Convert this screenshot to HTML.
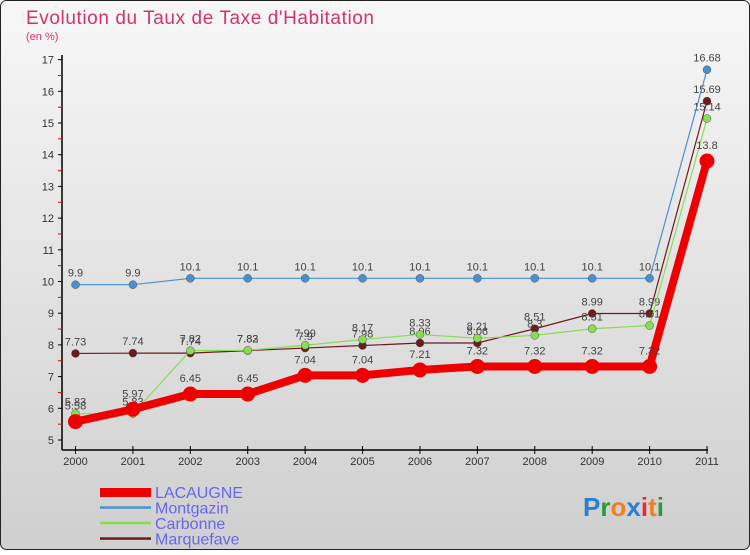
<!DOCTYPE html>
<html><head><meta charset="utf-8"><style>
html,body{margin:0;padding:0;}
body{width:750px;height:550px;overflow:hidden;font-family:"Liberation Sans",sans-serif;}
svg text{font-family:"Liberation Sans",sans-serif;}
</style></head><body>
<svg id="chart" width="750" height="550" xmlns="http://www.w3.org/2000/svg">
<defs><linearGradient id="bg" x1="0" y1="0" x2="0" y2="1"><stop offset="0" stop-color="#f7f7f7"/><stop offset="1" stop-color="#cfcfcf"/></linearGradient></defs>
<rect x="0.5" y="0.5" width="749" height="549" rx="6" fill="url(#bg)" stroke="#222"/>
<text x="26" y="24" font-size="19" fill="#d2336b" textLength="348">Evolution du Taux de Taxe d'Habitation</text>
<text x="26" y="40" font-size="11" fill="#d2336b">(en %)</text>
<g id="axes"></g><g id="series"></g><g id="legend"></g>
<g font-size="26" font-weight="bold">
<text x="583" y="516"><tspan fill="#2a7fd0">P</tspan><tspan fill="#2a9a3a">r</tspan><tspan fill="#f08020">o</tspan><tspan fill="#2a7fd0">x</tspan><tspan fill="#e03030">i</tspan><tspan fill="#f08020">t</tspan><tspan fill="#2a9a3a">i</tspan></text>
</g>
</svg>
<script>
const years=["2000","2001","2002","2003","2004","2005","2006","2007","2008","2009","2010","2011"];
const yTicks=[5,6,7,8,9,10,11,12,13,14,15,16,17];
const lacaugne=[5.58,5.97,6.45,6.45,7.04,7.04,7.21,7.32,7.32,7.32,7.32,13.8];
const montgazin=[9.9,9.9,10.1,10.1,10.1,10.1,10.1,10.1,10.1,10.1,10.1,16.68];
const carbonne=[5.83,5.83,7.82,7.83,7.99,8.17,8.33,8.21,8.3,8.51,8.61,15.14];
const marquefave=[7.73,7.74,7.74,7.82,7.9,7.98,8.06,8.06,8.51,8.99,8.99,15.69];
const NS="http://www.w3.org/2000/svg";
const x0=75.5,xStep=(707-75.5)/11,yBase=440,yUnit=31.7;
const X=i=>x0+i*xStep, Y=v=>yBase-(v-5)*yUnit;
function el(t,a,p){const e=document.createElementNS(NS,t);for(const k in a)e.setAttribute(k,a[k]);p.appendChild(e);return e;}
const ax=document.getElementById('axes');
let l=el('line',{x1:62,y1:55,x2:62,y2:450,stroke:'#000','stroke-width':1.5},ax);

l=el('line',{x1:62,y1:450,x2:708,y2:450,stroke:'#000','stroke-width':1.5},ax);

yTicks.forEach(v=>{
 el('line',{x1:58,y1:Y(v),x2:62,y2:Y(v),stroke:'#000'},ax);
 if(v<17){const m=el('line',{x1:58,y1:Y(v+0.5),x2:62,y2:Y(v+0.5),stroke:'#e00'},ax);}
 const t=el('text',{x:54,y:Y(v)+4,'font-size':11,'text-anchor':'end',fill:'#333'},ax);t.textContent=v;
 
});
years.forEach((y,i)=>{
 el('line',{x1:X(i),y1:446,x2:X(i),y2:454,stroke:'#000'},ax);
 const t=el('text',{x:X(i),y:465,'font-size':11,'text-anchor':'middle',fill:'#333'},ax);t.textContent=y;
 
});
const series=[
 {name:'Marquefave',data:marquefave,color:'#6b1b1b',w:1.2,r:4},
 {name:'Carbonne',data:carbonne,color:'#88dd55',w:1.2,r:4},
 {name:'Montgazin',data:montgazin,color:'#4a90d0',w:1.2,r:4},
 {name:'LACAUGNE',data:lacaugne,color:'#ee0000',w:8,r:7.5}];
const sg=document.getElementById('series');
series.forEach(s=>{
 const g=el('g',{},sg);
 
 const p=el('polyline',{points:s.data.map((v,i)=>X(i)+','+Y(v)).join(' '),fill:'none',stroke:s.color,'stroke-width':s.w},g);
 
 s.data.forEach((v,i)=>{
  const c=el('circle',{cx:X(i),cy:Y(v),r:s.r,fill:s.color,stroke:s.w>2?'none':'#555','stroke-width':0.5},g);
  
  const t=el('text',{x:X(i),y:Y(v)-(s.w>2?12:8),'font-size':11,'text-anchor':'middle',fill:'#444'},g);t.textContent=v;
  
 });
});
const lg=document.getElementById('legend');
const legendOrder=[series[3],series[2],series[1],series[0]];
legendOrder.forEach((s,i)=>{
 const y=492+i*15.5;
 const g=el('g',{},lg);
 
 el('rect',{x:100,y:y-(s.w>2?4:1.2),width:51,height:s.w>2?9:2.5,fill:s.color},g);
 const t=el('text',{x:155,y:y+6,'font-size':16,fill:'#6666ee'},g);t.textContent=s.name;
});
</script>
</body></html>
